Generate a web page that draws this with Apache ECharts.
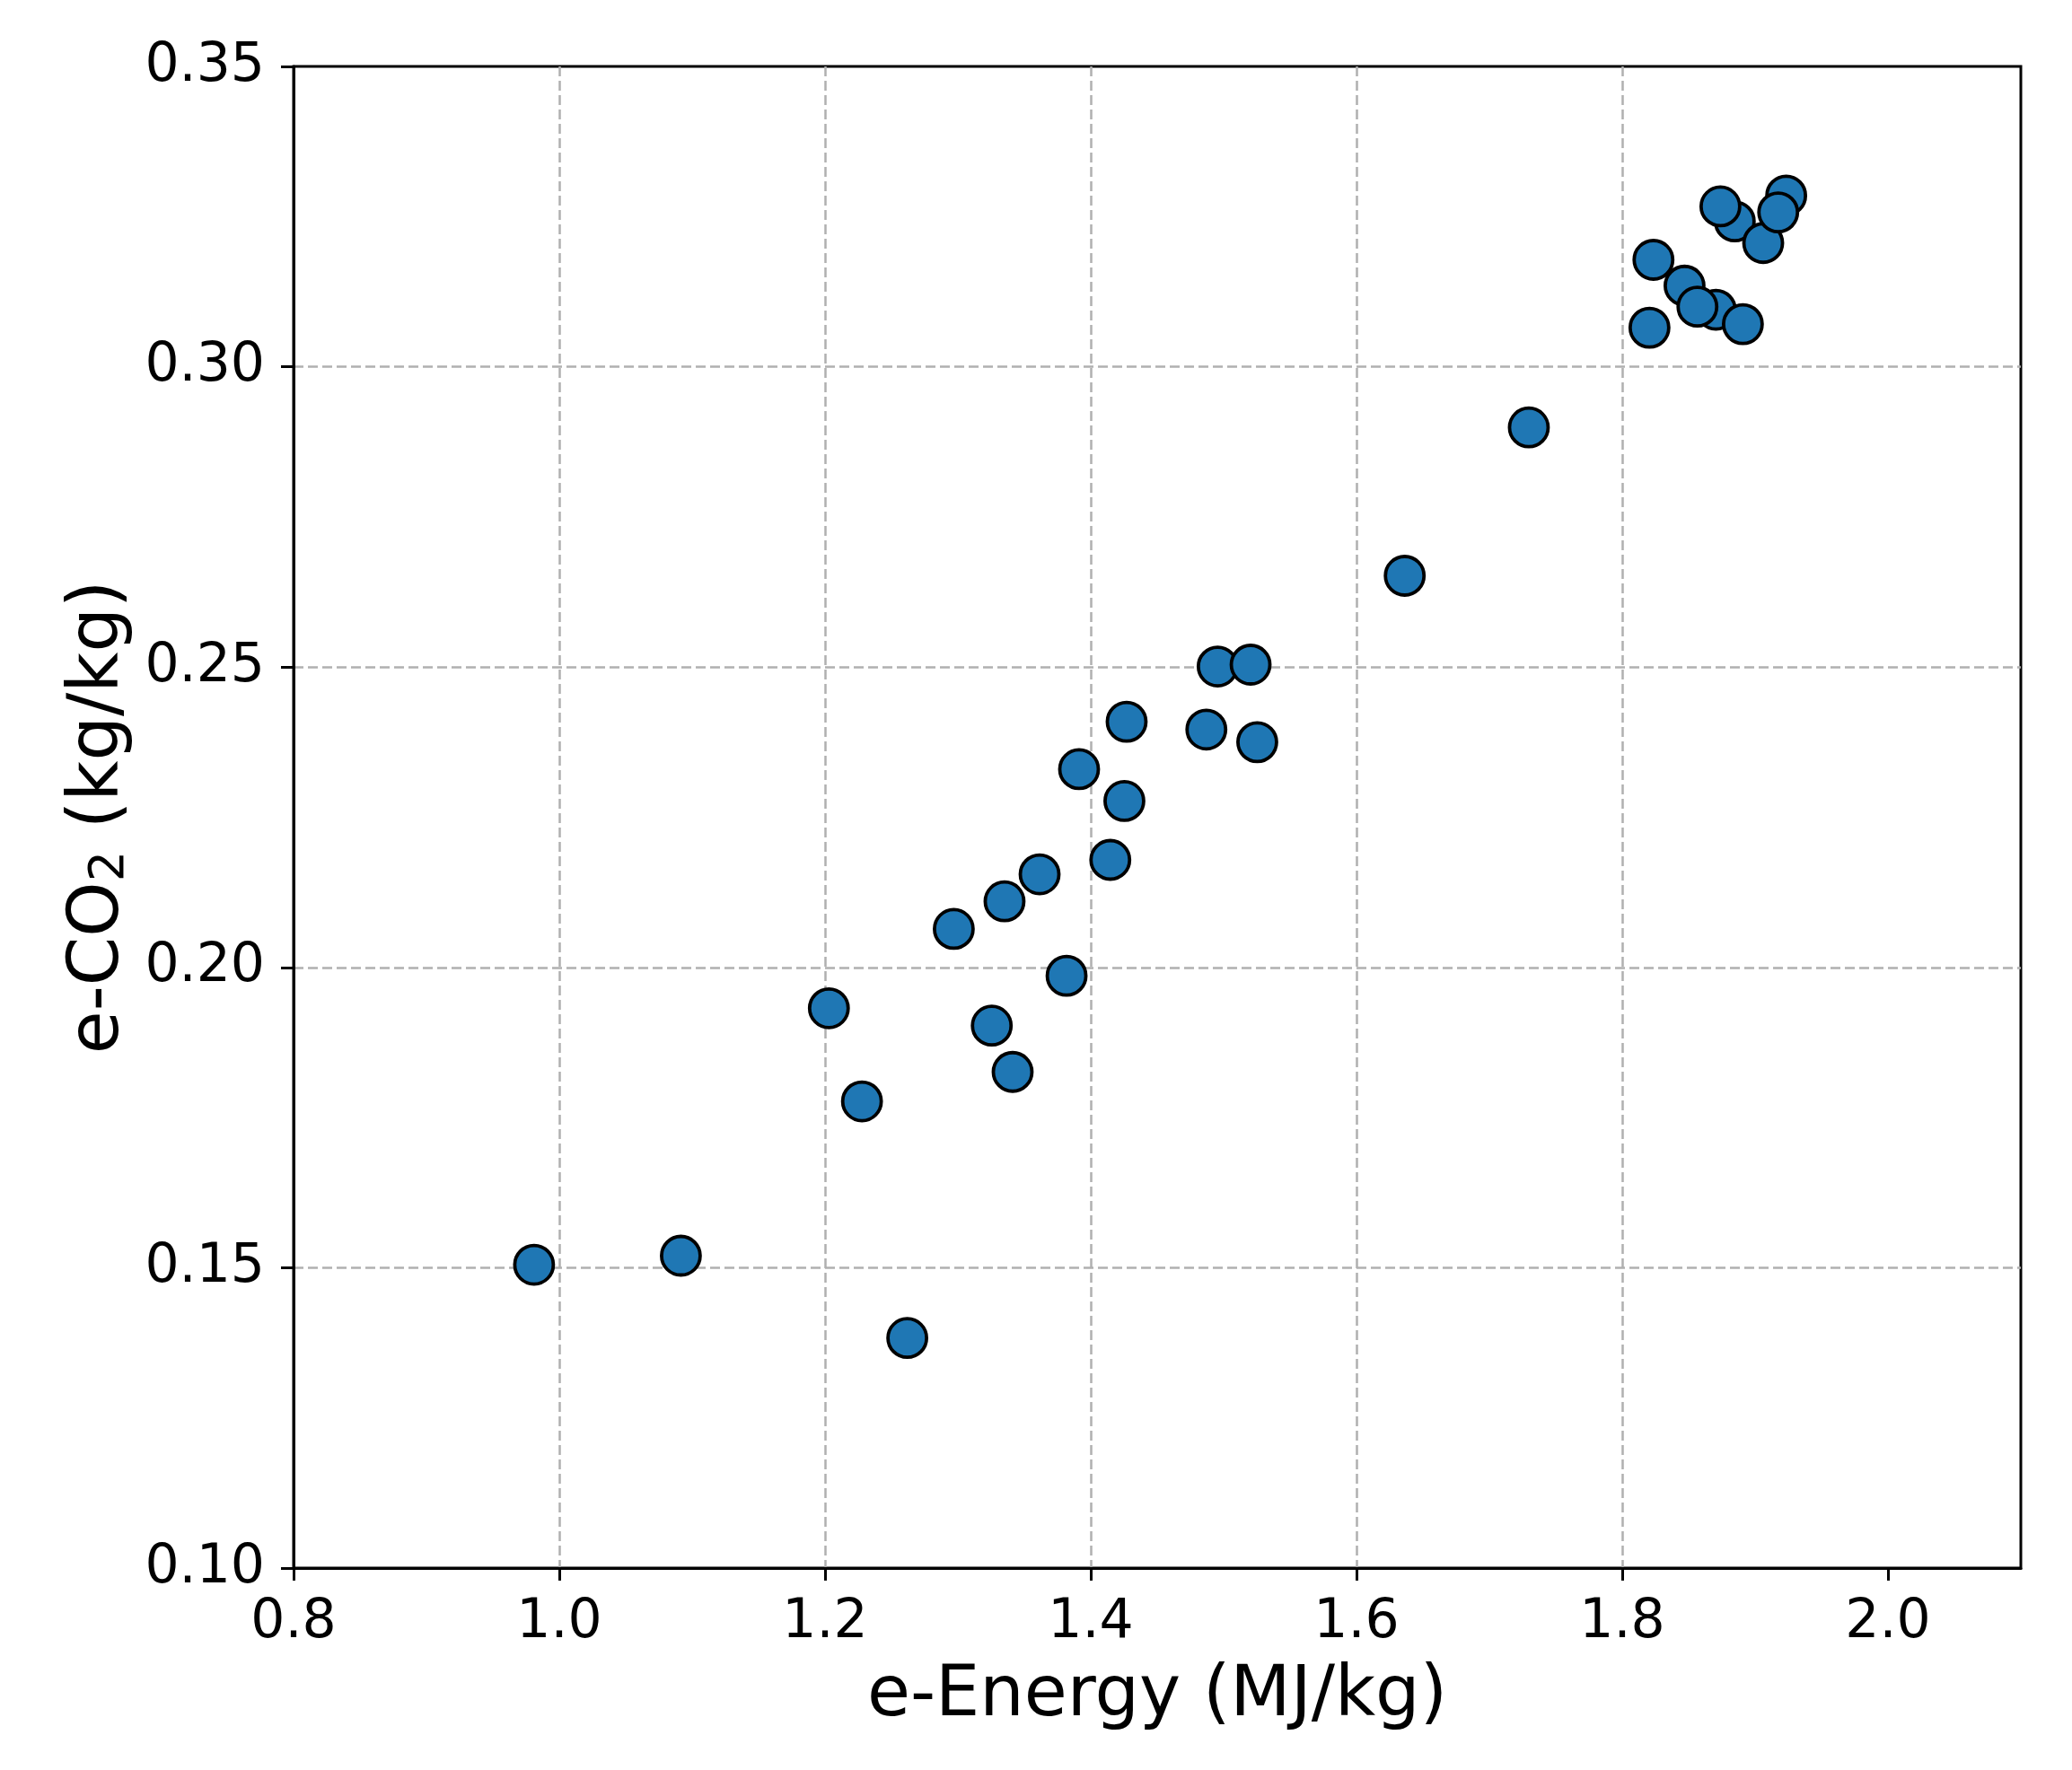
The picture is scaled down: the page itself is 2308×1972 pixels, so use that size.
<!DOCTYPE html>
<html>
<head>
<meta charset="utf-8">
<script src="https://cdn.jsdelivr.net/npm/echarts@6/dist/echarts.min.js"></script>
<style>
html,body{margin:0;padding:0;background:#fff;}
#chart{width:2308px;height:1972px;}
</style>
</head>
<body>
<div id="chart"></div>
<script>
const energy = [0.981, 1.0915, 1.2619, 1.2029, 1.2278, 1.2969, 1.3255, 1.3412, 1.3351, 1.3615, 1.3818, 1.3912, 1.4147, 1.4253, 1.4270, 1.4870, 1.4955, 1.5203, 1.5253, 1.6363, 1.7297, 1.8205, 1.8235, 1.8469, 1.8705, 1.8908, 1.8566, 1.8847, 1.8739, 1.9061, 1.9234, 1.9174];
const co2 = [0.1505, 0.1520, 0.1383, 0.1932, 0.1777, 0.2064, 0.1903, 0.1826, 0.2110, 0.2155, 0.1986, 0.2330, 0.2179, 0.2277, 0.2409, 0.2396, 0.2501, 0.2504, 0.2375, 0.2652, 0.2899, 0.3065, 0.3178, 0.3135, 0.3095, 0.3071, 0.3100, 0.3242, 0.3267, 0.3206, 0.3285, 0.3257];
const xTicks = [0.8, 1.0, 1.2, 1.4, 1.6, 1.8, 2.0];
const yTicks = [0.10, 0.15, 0.20, 0.25, 0.30, 0.35];

const chart = echarts.init(document.getElementById('chart'), null, {renderer: 'canvas'});
const font = 'DejaVu Sans';
chart.setOption({
  backgroundColor: '#fff',
  animation: false,
  grid: {left: 327, right: 57, top: 74, bottom: 225, show: true, borderColor: '#000', borderWidth: 3, backgroundColor: 'transparent'},
  xAxis: {
    type: 'value', min: 0.8, max: 2.1, interval: 0.2,
    name: 'e-Energy (MJ/kg)', nameLocation: 'middle', nameGap: 105,
    nameTextStyle: {fontFamily: font, fontSize: 78, color: '#000'},
    axisLine: {show: true, lineStyle: {color: '#000', width: 3}},
    axisTick: {show: true, length: 14, lineStyle: {color: '#000', width: 3}, customValues: xTicks},
    axisLabel: {fontFamily: font, fontSize: 60, color: '#000', margin: 31, customValues: xTicks, formatter: v => v.toFixed(1)},
    splitLine: {show: true, showMinLine: false, showMaxLine: false, lineStyle: {color: '#b0b0b0', width: 2.5, type: [11, 5]}}
  },
  yAxis: {
    type: 'value', min: 0.10, max: 0.35, interval: 0.05,
    name: 'e-CO{sub|2} (kg/kg)', nameLocation: 'middle', nameGap: 177,
    nameTextStyle: {fontFamily: font, fontSize: 78, color: '#000',
      rich: {sub: {fontFamily: font, fontSize: 54, color: '#000', verticalAlign: 'bottom', padding: [0, 0, 0, 0]}}},
    axisLine: {show: true, lineStyle: {color: '#000', width: 3}},
    axisTick: {show: true, length: 14, lineStyle: {color: '#000', width: 3}, customValues: yTicks},
    axisLabel: {fontFamily: font, fontSize: 60, color: '#000', margin: 32, customValues: yTicks, formatter: v => v.toFixed(2)},
    splitLine: {show: true, showMinLine: false, showMaxLine: false, lineStyle: {color: '#b0b0b0', width: 2.5, type: [11, 5]}}
  },
  series: [{
    type: 'scatter',
    data: energy.map((x, i) => [x, co2[i]]),
    symbol: 'circle',
    symbolSize: 43,
    itemStyle: {color: '#1f77b4', borderColor: '#000', borderWidth: 3.8, opacity: 1},
    emphasis: {disabled: true}
  }]
});
</script>
</body>
</html>
